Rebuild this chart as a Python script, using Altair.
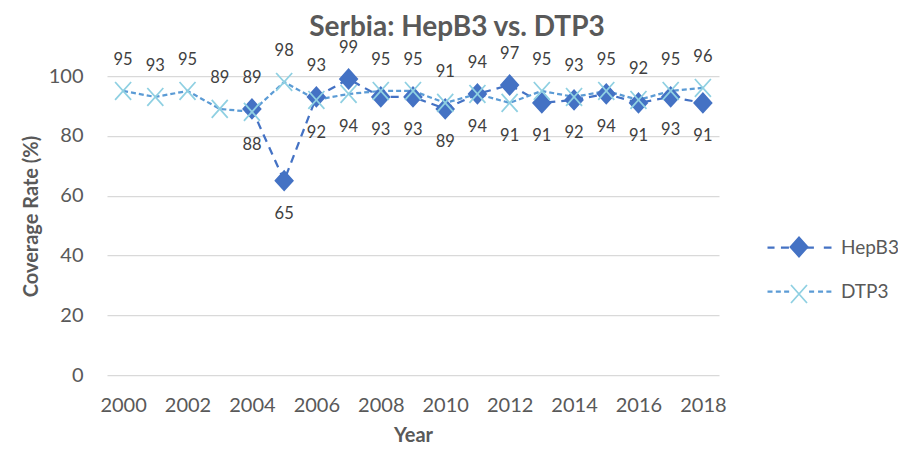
import altair as alt
import pandas as pd

years = list(range(2000, 2019))
hepb3 = [None, None, None, None, 89, 65, 93, 99, 93, 93, 89, 94, 97, 91, 92, 94, 91, 93, 91]
dtp3 = [95, 93, 95, 89, 88, 98, 92, 94, 95, 95, 91, 94, 91, 95, 93, 95, 92, 95, 96]
series_names = ["HepB3", "DTP3"]
marker_keys = ["m_HepB3", "m_DTP3"]
x_ticks = [2000, 2002, 2004, 2006, 2008, 2010, 2012, 2014, 2016, 2018]
y_ticks = [0, 20, 40, 60, 80, 100]

line_colors = ["#4472C4", "#5B9BD5"]
marker_fill = ["#4472C4", "transparent"]
marker_stroke = ["#4472C4", "#8FD0E2"]
dashes = [[8, 6], [5, 3]]

DIAMOND = "M-0.27,0L0,-0.3L0.27,0L0,0.3Z"
XMARK = "M-0.25,-0.28L0.25,0.28M-0.25,0.28L0.25,-0.28"
LEG_HEP = "M-1,0H-0.78M-0.58,0H-0.2M0.2,0H0.56M0.76,0H1"
LEG_DTP = "M-1,0H-0.84M-0.74,0H-0.58M-0.48,0H-0.3M0.3,0H0.48M0.58,0H0.74M0.84,0H1"

rows = []
for i, yr in enumerate(years):
    h, d = hepb3[i], dtp3[i]
    if h is not None:
        h_pos = "above" if h > d else "below"
        rows.append({"year": yr, "series": "HepB3", "mkey": "m_HepB3", "value": h, "pos": h_pos})
for i, yr in enumerate(years):
    h, d = hepb3[i], dtp3[i]
    d_pos = "above" if (h is None or d >= h) else "below"
    rows.append({"year": yr, "series": "DTP3", "mkey": "m_DTP3", "value": d, "pos": d_pos})
df = pd.DataFrame(rows)

FONT = "Lato"
GREY = "#595959"

x_enc = alt.X("year:Q", scale=alt.Scale(domain=[1999.5, 2018.5], nice=False, zero=False),
              axis=alt.Axis(values=x_ticks, format="d", title="Year", grid=False,
                            domain=False, ticks=False, labelPadding=20,
                            titleX=306, titleY=60, titleBaseline="middle"))
y_enc = alt.Y("value:Q", scale=alt.Scale(domain=[0, 100], nice=False),
              axis=alt.Axis(values=y_ticks, title="Coverage Rate (%)", grid=True,
                            domain=False, ticks=False, labelPadding=24,
                            titleX=-76, titleY=140, titleBaseline="middle"))

legend_common = dict(title=None, orient="none", legendX=659, legendY=138, direction="vertical",
                     symbolSize=4096, padding=0, labelFont=FONT, labelFontSize=19,
                     labelColor=GREY, labelOffset=8, rowPadding=-1)

legend_lines = alt.Legend(
    symbolStrokeWidth=2.25,
    symbolType={"expr": "datum.value === 'HepB3' ? '%s' : '%s'" % (LEG_HEP, LEG_DTP)},
    symbolFillColor="transparent",
    symbolOpacity=1,
    **legend_common)

legend_marks = alt.Legend(symbolStrokeWidth=1.75, labelExpr="''", symbolOpacity=1, **legend_common)

base = alt.Chart(df)

lines = base.mark_line(strokeWidth=2.25).encode(
    x=x_enc, y=y_enc,
    color=alt.Color("series:N", scale=alt.Scale(domain=series_names, range=line_colors),
                    legend=legend_lines),
    strokeDash=alt.StrokeDash("series:N", scale=alt.Scale(domain=series_names, range=dashes),
                              legend=None),
)

points = base.mark_point(size=4096, strokeWidth=1.75, opacity=1).encode(
    x=x_enc, y=y_enc,
    shape=alt.Shape("mkey:N", scale=alt.Scale(domain=marker_keys, range=[DIAMOND, XMARK]),
                    legend=legend_marks),
    fill=alt.Fill("mkey:N", scale=alt.Scale(domain=marker_keys, range=marker_fill),
                  legend=legend_marks),
    stroke=alt.Stroke("mkey:N", scale=alt.Scale(domain=marker_keys, range=marker_stroke),
                      legend=legend_marks),
)

labels_above = base.transform_filter(alt.datum.pos == "above").mark_text(
    dy=-31, font=FONT, fontSize=16.5, color="#404040").encode(
    x=x_enc, y=y_enc, text=alt.Text("value:Q", format="d"))
labels_below = base.transform_filter(alt.datum.pos == "below").mark_text(
    dy=33, font=FONT, fontSize=16.5, color="#404040").encode(
    x=x_enc, y=y_enc, text=alt.Text("value:Q", format="d"))

chart = alt.layer(lines, points, labels_above, labels_below).properties(
    width=612, height=299,
    background="white",
    title=alt.TitleParams("Serbia: HepB3 vs. DTP3", font=FONT, fontSize=28, fontWeight="bold",
                          color=GREY, anchor="middle", dx=44, offset=-2),
    autosize=alt.AutoSizeParams(type="none"),
    padding={"left": 99, "top": 68, "right": 179, "bottom": 72},
).configure_view(stroke=None).configure_axis(
    labelFont=FONT, labelFontSize=20, labelColor=GREY, titleFont=FONT, titleFontSize=20,
    titleFontWeight="bold", titleColor=GREY, gridColor="#D9D9D9", gridWidth=1.25
)

chart.save("out.html", embed_options={"renderer": "svg", "actions": False})
